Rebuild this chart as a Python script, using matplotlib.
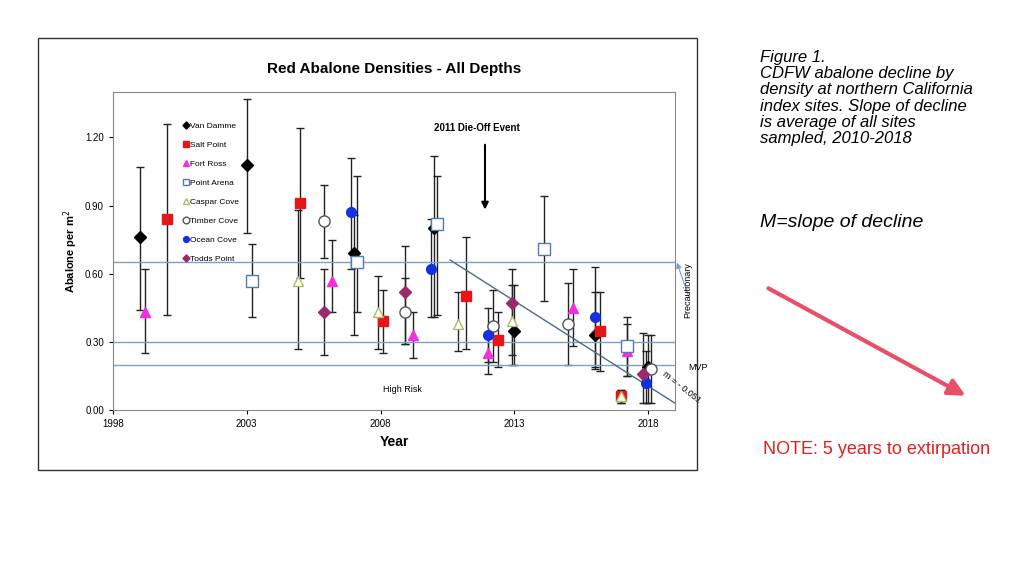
import matplotlib.pyplot as plt
from matplotlib.patches import Rectangle, FancyArrowPatch

# site data: (year, density, lower, upper)
van_damme = [(1999.0, 0.76, 0.44, 1.07), (2003.0, 1.08, 0.78, 1.37), (2007.0, 0.69, 0.33, 0.86),
             (2010.0, 0.80, 0.41, 1.12), (2013.0, 0.35, 0.20, 0.55), (2016.0, 0.33, 0.19, 0.52),
             (2018.0, 0.19, 0.03, 0.33)]
salt_point = [(2000.0, 0.84, 0.42, 1.26), (2005.0, 0.91, 0.58, 1.24), (2008.1, 0.39, 0.25, 0.53),
              (2011.2, 0.50, 0.27, 0.76), (2012.4, 0.31, 0.19, 0.43), (2016.2, 0.35, 0.17, 0.52),
              (2017.0, 0.06, 0.03, 0.09)]
fort_ross = [(1999.2, 0.43, 0.25, 0.62), (2006.2, 0.57, 0.43, 0.75), (2009.2, 0.33, 0.23, 0.43),
             (2012.0, 0.25, 0.16, 0.33), (2015.2, 0.45, 0.28, 0.62), (2017.2, 0.26, 0.15, 0.41)]
point_arena = [(2003.2, 0.57, 0.41, 0.73), (2007.1, 0.65, 0.43, 1.03), (2010.1, 0.82, 0.42, 1.03),
               (2014.1, 0.71, 0.48, 0.94), (2017.2, 0.28, 0.15, 0.38)]
caspar_cove = [(2004.9, 0.57, 0.27, 0.88), (2007.9, 0.43, 0.27, 0.59), (2010.9, 0.38, 0.26, 0.52),
               (2012.9, 0.39, 0.20, 0.55), (2017.0, 0.06, 0.03, 0.09)]
timber_cove = [(2005.9, 0.83, 0.67, 0.99), (2008.9, 0.43, 0.29, 0.58), (2012.2, 0.37, 0.21, 0.53),
               (2015.0, 0.38, 0.20, 0.56), (2018.1, 0.18, 0.03, 0.33)]
ocean_cove = [(2006.9, 0.87, 0.62, 1.11), (2009.9, 0.62, 0.41, 0.84), (2012.0, 0.33, 0.21, 0.45),
              (2016.0, 0.41, 0.18, 0.63), (2017.9, 0.12, 0.03, 0.26)]
todds_point = [(2005.9, 0.43, 0.24, 0.62), (2008.9, 0.52, 0.29, 0.72), (2012.9, 0.47, 0.24, 0.62),
               (2017.8, 0.16, 0.03, 0.34)]

sites = [
    ("Van Damme", van_damme, "D", "black", "black", 6),
    ("Salt Point", salt_point, "s", "#e8141a", "#e8141a", 7),
    ("Fort Ross", fort_ross, "^", "#f030e0", "#f030e0", 7),
    ("Point Arena", point_arena, "s", "white", "#5577bb", 8),
    ("Caspar Cove", caspar_cove, "^", "white", "#a8c060", 7),
    ("Timber Cove", timber_cove, "o", "white", "#555555", 8),
    ("Ocean Cove", ocean_cove, "o", "#1530e0", "#1530e0", 7),
    ("Todds Point", todds_point, "D", "#9a2a70", "#9a2a70", 6),
]
thresholds = [0.65, 0.30, 0.20]
slope_line = [(2010.6, 0.66), (2019.0, 0.03)]

plt.rcParams["font.family"] = "Liberation Sans"

fig = plt.figure(figsize=(10.24, 5.76), dpi=100)
fig.patches.append(Rectangle((38 / 1024, 1 - 470 / 576), 659 / 1024, 432 / 576,
                             transform=fig.transFigure, fill=False, ec="#333333", lw=1))
ax = fig.add_axes([113 / 1024, 1 - 410 / 576, 562 / 1024, 318 / 576])

for name, pts, mk, fc, ec, ms in sites:
    xs = [p[0] for p in pts]
    ys = [p[1] for p in pts]
    err = [[p[1] - p[2] for p in pts], [p[3] - p[1] for p in pts]]
    ax.errorbar(xs, ys, yerr=err, fmt="none", ecolor="#222222", elinewidth=1, capsize=3, capthick=1)
    ax.plot(xs, ys, mk, mfc=fc, mec=ec, ms=ms, mew=1, ls="none", label=name, zorder=3)

for t in thresholds:
    ax.axhline(t, color="#7aa0c8", lw=1)
ax.plot([p[0] for p in slope_line], [p[1] for p in slope_line], color="#4a6a90", lw=1)
ax.text(2018.45, 0.10, "m = - 0.051", rotation=-38, fontsize=6.5, ha="left", va="center")
ax.text(2008.8, 0.09, "High Risk", fontsize=6.5, ha="center", va="center")
ax.text(2011.6, 1.23, "2011 Die-Off Event", fontsize=7, fontweight="bold", ha="center")
ax.annotate("", xy=(2011.9, 0.87), xytext=(2011.9, 1.18),
            arrowprops=dict(arrowstyle="-|>", color="black", lw=1.5))

ax.set_xlim(1998, 2019)
ax.set_ylim(0, 1.40)
ax.set_xticks([1998, 2003, 2008, 2013, 2018])
ax.set_yticks([0, 0.3, 0.6, 0.9, 1.2])
ax.set_yticklabels(["0.00", "0.30", "0.60", "0.90", "1.20"])
ax.tick_params(labelsize=7, length=3)
for s in ax.spines.values():
    s.set_color("#888888")
ax.set_xlabel("Year", fontsize=10, fontweight="bold", labelpad=4)
ax.set_ylabel("Abalone per m$^2$", fontsize=8, fontweight="bold")
ax.set_title("Red Abalone Densities - All Depths", fontsize=11, fontweight="bold", pad=14)
ax.legend(loc="upper left", bbox_to_anchor=(0.11, 0.93), frameon=False, fontsize=6,
          handletextpad=0.1, markerscale=0.6, labelspacing=1.35, handlelength=0.8)

fig.text(683 / 1024, 1 - 290 / 576, "Precautionary", rotation=90, fontsize=6.5, va="center")
fig.text(688 / 1024, 1 - 368 / 576, "MVP", fontsize=6.5, va="center")
fig.patches.append(FancyArrowPatch((690 / 1024, 1 - 300 / 576), (676 / 1024, 1 - 260 / 576),
                                   transform=fig.transFigure, arrowstyle="-|>", mutation_scale=8,
                                   color="#7aa0c8", lw=0.8))

fig.text(760 / 1024, 1 - 50 / 576,
         "Figure 1.\nCDFW abalone decline by\ndensity at northern California\nindex sites. Slope of decline\nis average of all sites\nsampled, 2010-2018",
         fontsize=12, style="italic", va="top", linespacing=1.1)
fig.text(760 / 1024, 1 - 222 / 576, "M=slope of decline", fontsize=14, style="italic", va="center")
fig.patches.append(FancyArrowPatch((766 / 1024, 1 - 287 / 576), (968 / 1024, 1 - 397 / 576),
                                   transform=fig.transFigure, arrowstyle="-|>", mutation_scale=25,
                                   color="#e8506a", lw=3))
fig.text(763 / 1024, 1 - 450 / 576, "NOTE: 5 years to extirpation", fontsize=13,
         color="#e02020", va="center")

fig.savefig("out.png", dpi=100)
